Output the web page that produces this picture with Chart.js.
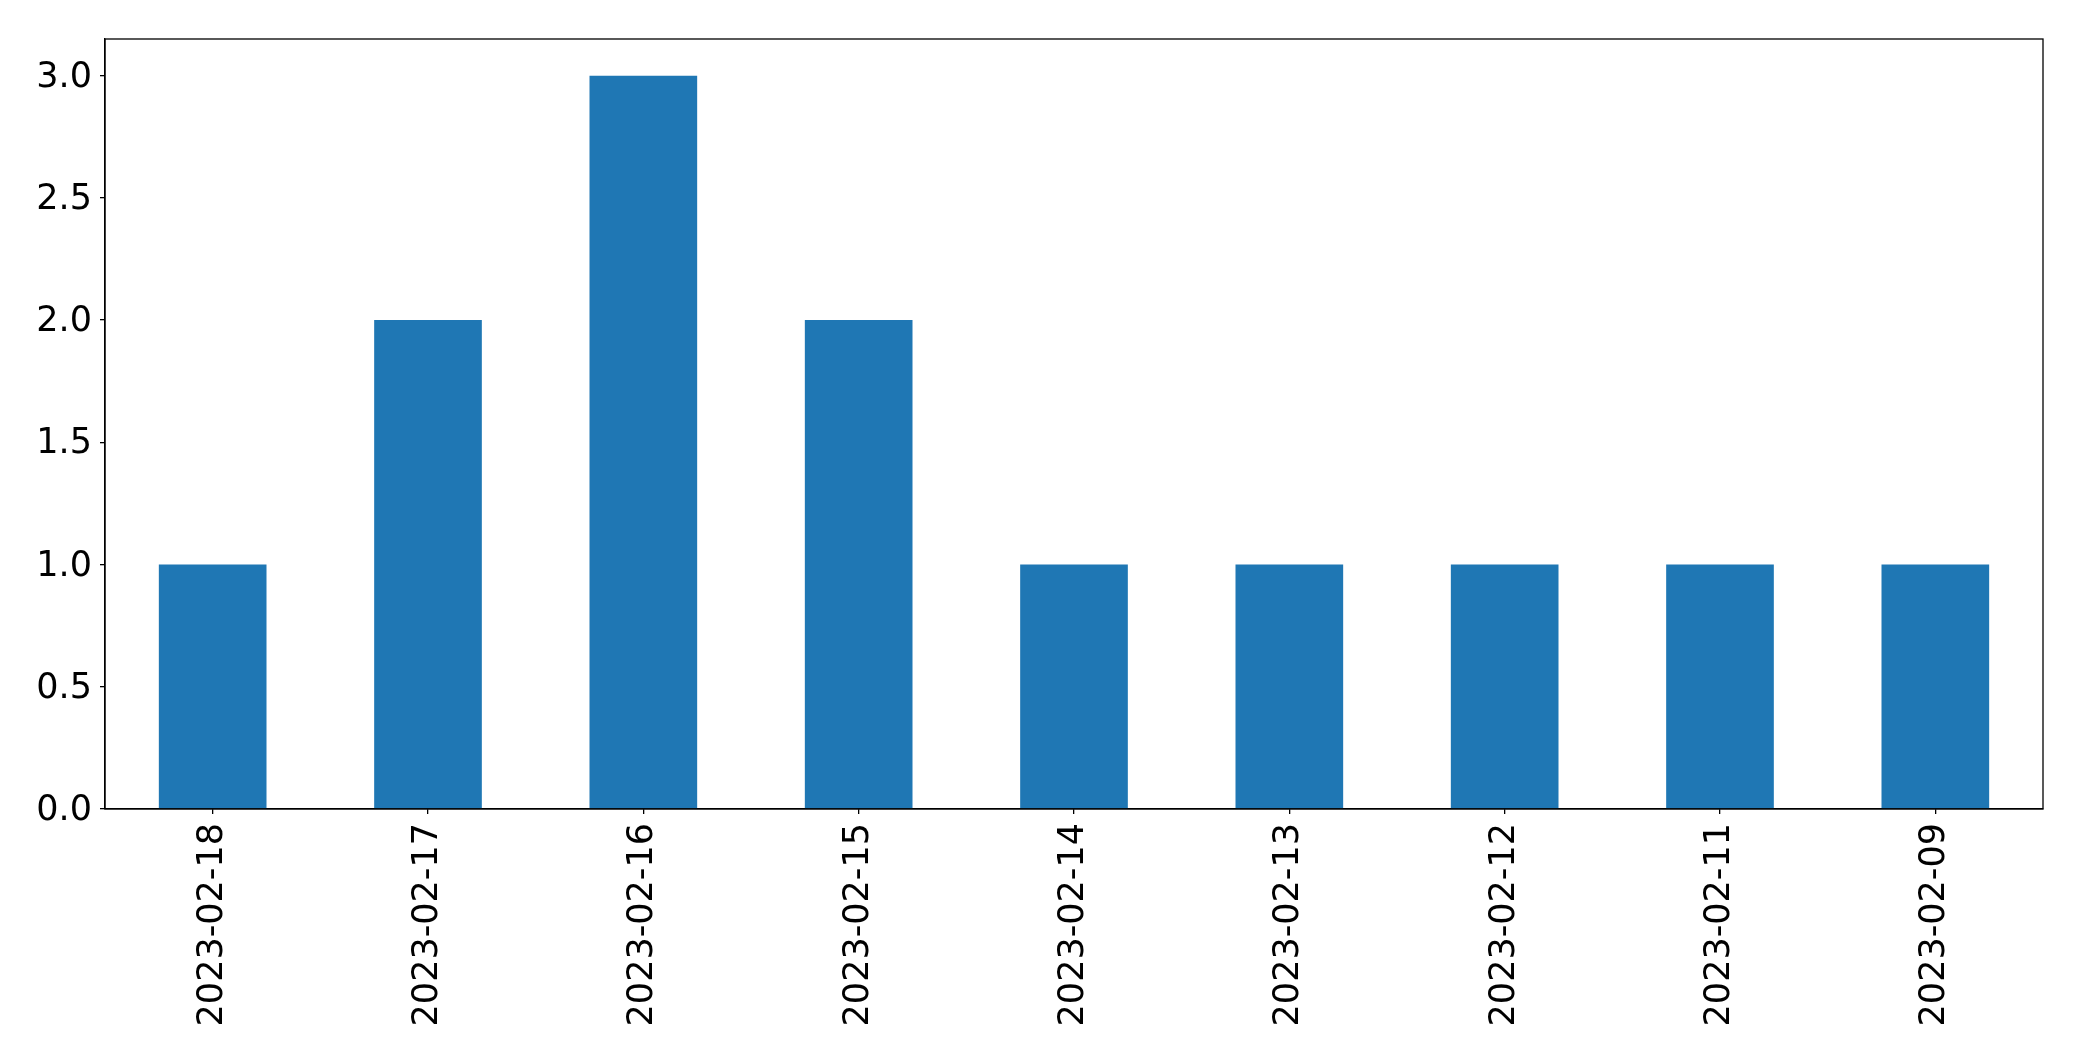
<!DOCTYPE html>
<html>
<head>
<meta charset="utf-8">
<script src="https://cdn.jsdelivr.net/npm/chart.js@4"></script>
<style>
  html, body { margin: 0; padding: 0; background: #fff; }
  #wrap { width: 2082px; height: 1061px; }
</style>
</head>
<body>
<div id="wrap"><canvas id="chart" width="2082" height="1061"></canvas></div>
<script>
const dates = ["2023-02-18", "2023-02-17", "2023-02-16", "2023-02-15", "2023-02-14",
               "2023-02-13", "2023-02-12", "2023-02-11", "2023-02-09"];
const counts = [1, 2, 3, 2, 1, 1, 1, 1, 1];
const yTicks = [0, 0.5, 1.0, 1.5, 2.0, 2.5, 3.0];

// frame round the plot area, like the matplotlib axes box
const frame = {
  id: "frame",
  afterDraw(chart) {
    const a = chart.chartArea;
    const c = chart.ctx;
    c.save();
    c.strokeStyle = "#000";
    c.lineWidth = 1.3;
    c.strokeRect(a.left, a.top, a.right - a.left, a.bottom - a.top);
    c.restore();
  }
};

const ctx = document.getElementById("chart").getContext("2d");
new Chart(ctx, {
  type: "bar",
  data: {
    labels: dates,
    datasets: [{
      data: counts,
      backgroundColor: "#1f77b4",
      borderWidth: 0,
      barPercentage: 0.5,
      categoryPercentage: 1.0
    }]
  },
  options: {
    responsive: false,
    animation: false,
    layout: { padding: { top: 39, right: 39, left: 0, bottom: 0 } },
    plugins: {
      legend: { display: false },
      tooltip: { enabled: false }
    },
    scales: {
      x: {
        offset: true,
        grid: { display: true, drawOnChartArea: false, drawTicks: true, tickLength: 5, color: "#000", lineWidth: 1.3, offset: false },
        border: { display: true, color: "#000", width: 1.3 },
        ticks: {
          color: "#000",
          font: { family: "DejaVu Sans", size: 35 },
          minRotation: 90,
          maxRotation: 90,
          padding: 9,
          autoSkip: false
        },
        afterFit(scale) { scale.height = 252; }
      },
      y: {
        min: 0,
        max: 3.15,
        grid: { display: true, drawOnChartArea: false, drawTicks: true, tickLength: 5, color: "#000", lineWidth: 1.3 },
        border: { display: true, color: "#000", width: 1.3 },
        ticks: {
          color: "#000",
          font: { family: "DejaVu Sans", size: 35 },
          padding: 8,
          labelOffset: 2,
          callback: v => v.toFixed(1)
        },
        afterBuildTicks(scale) { scale.ticks = yTicks.map(v => ({ value: v })); },
        afterFit(scale) { scale.width = 105; }
      }
    }
  },
  plugins: [frame]
});
</script>
</body>
</html>
